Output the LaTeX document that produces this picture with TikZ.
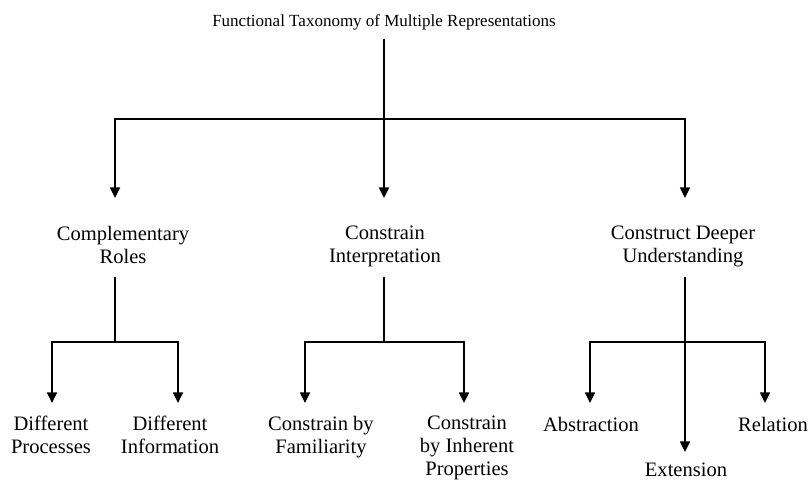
\documentclass[tikz,border=0pt]{standalone}
\usepackage{fontspec}
\setmainfont{Liberation Serif}
\usetikzlibrary{arrows.meta,positioning}

\begin{document}
\begin{tikzpicture}[x=0.75pt ,y=-0.75pt ,line width=1.1pt ,
	arr/.style ={-{Triangle[width=7.5pt,length=8pt]}},
	head/.style ={align=center ,inner xsep=0pt ,inner ysep=4.5pt ,
		font=\fontsize{12.75}{15}\selectfont ,execute at begin node=\strut ,execute at end node=\strut},
	branch/.style ={align=center ,inner xsep=0pt ,inner ysep=4.5pt ,
		font=\fontsize{15.4}{17.3}\selectfont ,execute at begin node=\strut ,execute at end node=\strut},
	leaf/.style ={branch ,inner ysep=0pt}]
	\useasboundingbox (0,0) rectangle (811,479);
	% nodes
	\node[head] (title) at (384,22) {Functional Taxonomy of Multiple Representations};
	\node[branch] (roles) at (123,248) {Complementary\\Roles};
	\node[branch] (interp) at (385,248) {Constrain\\Interpretation};
	\node[branch] (deeper) at (683,248) {Construct Deeper\\Understanding};
	\node[leaf] (proc) at (51,438) {Different\\Processes};
	\node[leaf] (info) at (170,438) {Different\\Information};
	\node[leaf] (famil) at (321,438) {Constrain by\\Familiarity};
	\node[leaf] (inher) at (467,449) {Constrain\\by Inherent\\Properties};
	\node[leaf] (abstr) at (591,426.5) {Abstraction};
	\node[leaf] (relat) at (773,426.5) {Relation};
	\node[leaf] (exten) at (686,471.5) {Extension};
	% junctions and arrow tips
	\coordinate (hub) at (384,119);
	\coordinate (roles-in) at (115,198);
	\coordinate (interp-in) at (384,198);
	\coordinate (deeper-in) at (685,198);
	\coordinate (roles-bar) at (115,342);
	\coordinate (interp-bar) at (384,342);
	\coordinate (deeper-bar) at (685,342);
	\coordinate (proc-in) at (52,403);
	\coordinate (info-in) at (178,403);
	\coordinate (famil-in) at (305,403);
	\coordinate (inher-in) at (464,403);
	\coordinate (abstr-in) at (590,403);
	\coordinate (relat-in) at (765,403);
	\coordinate (exten-in) at (685,452);
	% connectors
	\draw (title.south -| hub) -- (hub);
	\foreach \n in {roles,interp,deeper}
		\draw[arr] (hub) -| (\n-in);
	\draw (roles.south -| roles-bar) -- (roles-bar);
	\draw (interp.south -| interp-bar) -- (interp-bar);
	\draw[arr] (deeper.south -| deeper-bar) -- (exten-in);
	\draw[arr] (roles-bar) -| (proc-in);
	\draw[arr] (roles-bar) -| (info-in);
	\draw[arr] (interp-bar) -| (famil-in);
	\draw[arr] (interp-bar) -| (inher-in);
	\draw[arr] (deeper-bar) -| (abstr-in);
	\draw[arr] (deeper-bar) -| (relat-in);
\end{tikzpicture}
\end{document}
